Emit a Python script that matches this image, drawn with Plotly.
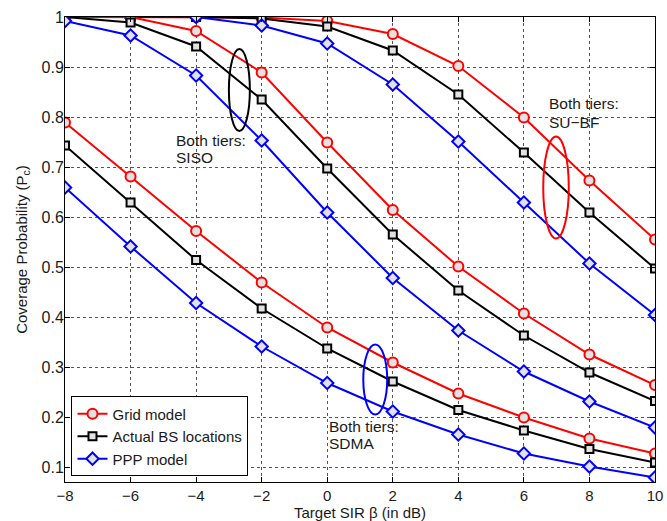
import plotly.graph_objects as go

x_db = [-8, -6, -4, -2, 0, 2, 4, 6, 8, 10]

# SU-BF (top group)
grid_subf = [1.0, 1.0, 1.0, 0.999, 0.992, 0.966, 0.902, 0.799, 0.673, 0.555]
actual_subf = [1.0, 1.0, 1.0, 0.997, 0.981, 0.933, 0.845, 0.729, 0.609, 0.497]
ppp_subf = [1.0, 1.0, 1.0, 0.983, 0.947, 0.865, 0.751, 0.629, 0.507, 0.404]

# SISO (middle group)
grid_siso = [1.0, 1.0, 0.972, 0.889, 0.749, 0.614, 0.501, 0.407, 0.325, 0.264]
actual_siso = [1.0, 0.989, 0.941, 0.835, 0.697, 0.565, 0.453, 0.363, 0.289, 0.232]
ppp_siso = [0.992, 0.963, 0.883, 0.753, 0.609, 0.478, 0.373, 0.291, 0.231, 0.179]

# SDMA (bottom group)
grid_sdma = [0.789, 0.681, 0.572, 0.469, 0.379, 0.309, 0.247, 0.199, 0.157, 0.127]
actual_sdma = [0.743, 0.629, 0.514, 0.417, 0.337, 0.271, 0.214, 0.173, 0.136, 0.109]
ppp_sdma = [0.659, 0.541, 0.428, 0.341, 0.268, 0.211, 0.165, 0.127, 0.101, 0.079]

y_ticks = [0.1, 0.2, 0.3, 0.4, 0.5, 0.6, 0.7, 0.8, 0.9, 1.0]
y_ticklabels = ["0.1", "0.2", "0.3", "0.4", "0.5", "0.6", "0.7", "0.8", "0.9", "1"]

FONT = "Liberation Sans, Arial, sans-serif"
FILL = "#e2e2e2"
TXT = "#1a1a1a"

styles = {
    "grid": dict(color="#ff0000", symbol="circle", size=10, name="Grid model"),
    "actual": dict(color="#000000", symbol="square", size=8, name="Actual BS locations"),
    "ppp": dict(color="#0000ff", symbol="diamond", size=9.5, name="PPP model"),
}

series = [
    ("grid", grid_subf), ("actual", actual_subf), ("ppp", ppp_subf),
    ("grid", grid_siso), ("actual", actual_siso), ("ppp", ppp_siso),
    ("grid", grid_sdma), ("actual", actual_sdma), ("ppp", ppp_sdma),
]

fig = go.Figure()
shown = set()
for key, vals in series:
    st = styles[key]
    fig.add_trace(go.Scatter(
        x=x_db, y=vals, mode="lines+markers",
        name=st["name"], legendgroup=key, showlegend=key not in shown,
        line=dict(color=st["color"], width=2),
        marker=dict(symbol=st["symbol"], size=st["size"], color=FILL,
                    line=dict(color=st["color"], width=2)),
    ))
    shown.add(key)

# ellipses
fig.add_shape(type="circle", xref="x", yref="y", x0=-3.0, x1=-2.36, y0=0.772, y1=0.936,
              line=dict(color="black", width=2))
fig.add_shape(type="circle", xref="x", yref="y", x0=6.59, x1=7.37, y0=0.557, y1=0.761,
              line=dict(color="#ff0000", width=2))
fig.add_shape(type="circle", xref="x", yref="y", x0=1.10, x1=1.83, y0=0.205, y1=0.345,
              line=dict(color="#0000ff", width=2))

ann_font = dict(family=FONT, size=15.5, color=TXT)
labels = [
    (-4.66, 0.754, "Both tiers:"), (-4.66, 0.719, "SISO"),
    (6.69, 0.827, "Both tiers:"), (6.69, 0.789, "SU\u2212BF"),
    (0.0, 0.181, "Both tiers:"), (0.0, 0.147, "SDMA"),
]
for ax_, ay_, t in labels:
    fig.add_annotation(x=ax_, y=ay_, xref="x", yref="y", text=t,
                       showarrow=False, xanchor="left", yanchor="middle", align="left",
                       font=ann_font)

axis_common = dict(
    showline=True, linecolor="black", linewidth=1, mirror="ticks",
    ticks="inside", ticklen=5, tickcolor="black", automargin=False,
    showgrid=True, gridcolor="#555555", griddash="dot", gridwidth=1,
    zeroline=False,
)

fig.update_layout(
    template="none",
    width=667, height=521,
    margin=dict(l=65, r=12, t=17, b=39),
    paper_bgcolor="white", plot_bgcolor="white",
    font=dict(family=FONT, color=TXT),
    xaxis=dict(range=[-8, 10], tickvals=x_db, ticklabelstandoff=0,
               tickfont=dict(family=FONT, size=15, color=TXT),
               title=dict(text="Target SIR \u03b2 (in dB)", font=dict(family=FONT, size=15, color=TXT), standoff=2),
               **axis_common),
    yaxis=dict(range=[0.07, 1.0], tickvals=y_ticks, ticktext=y_ticklabels, ticklabelstandoff=-3,
               tickfont=dict(family=FONT, size=16, color=TXT),
               title=dict(text="Coverage Probability (P<sub>c</sub>)", font=dict(family=FONT, size=15, color=TXT), standoff=10),
               **axis_common),
    legend=dict(x=0.011, y=0.012, xanchor="left", yanchor="bottom",
                bgcolor="white", bordercolor="black", borderwidth=1,
                font=dict(family=FONT, size=15, color=TXT), tracegroupgap=0, itemwidth=30),
    showlegend=True,
)

fig.write_html("out.html")
